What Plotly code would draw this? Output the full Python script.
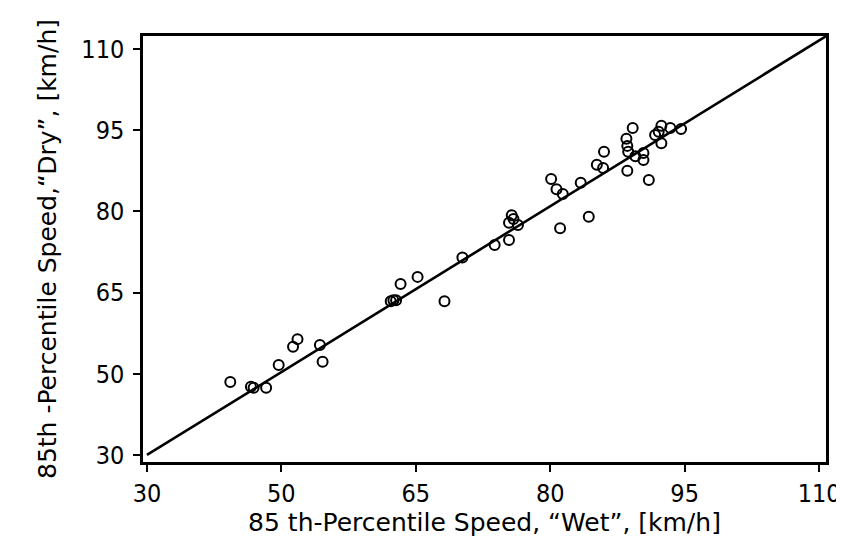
import plotly.graph_objects as go

# Tick labels (axis drawn with equal spacing between labels)
tick_vals = [35, 50, 65, 80, 95, 110]
tick_text = ["30", "50", "65", "80", "95", "110"]

wet = [44.3, 46.6, 46.9, 48.3, 49.7, 51.3, 51.8, 54.3, 54.6, 62.2, 62.5, 62.8,
       63.3, 65.2, 68.2, 70.2, 73.8, 75.4, 75.7, 75.4, 76.4, 75.9, 81.1, 84.3,
       80.1, 80.7, 81.4, 83.4, 85.2, 85.9, 86.0, 88.6, 91.0, 89.2, 88.5, 88.6,
       88.7, 89.5, 90.4, 90.4, 91.7, 92.4, 93.4, 92.4, 94.6, 92.1]
dry = [48.5, 47.6, 47.4, 47.4, 51.6, 55.0, 56.4, 55.3, 52.2, 63.4, 63.6, 63.6,
       66.6, 67.9, 63.4, 71.5, 73.8, 74.7, 79.3, 77.9, 77.5, 78.6, 76.9, 79.0,
       86.0, 84.1, 83.2, 85.3, 88.6, 88.0, 91.0, 87.5, 85.8, 95.4, 93.4, 92.1,
       91.0, 90.2, 90.8, 89.5, 94.1, 95.8, 95.4, 92.6, 95.2, 94.7]

# Reference line (equality line, wet = dry)
line_x = [35, 110.8]
line_y = [35, 112.4]

fig = go.Figure()
fig.add_trace(go.Scatter(x=line_x, y=line_y, mode="lines",
                         line=dict(color="black", width=2.6), showlegend=False))
fig.add_trace(go.Scatter(x=wet, y=dry, mode="markers",
                         marker=dict(symbol="circle-open", size=10, color="black",
                                     line=dict(width=2, color="black")),
                         showlegend=False))

axis_common = dict(
    tickmode="array", tickvals=tick_vals, ticktext=tick_text,
    showgrid=False, zeroline=False, showline=True, linecolor="black",
    linewidth=2.5, mirror=True, ticks="outside", ticklen=7, tickwidth=2,
    tickcolor="black",
    tickfont=dict(family="DejaVu Sans Condensed", size=25, color="black"),
)

fig.update_layout(
    width=844, height=536,
    margin=dict(l=135, r=15, t=28, b=82),
    plot_bgcolor="white", paper_bgcolor="white",
    xaxis=dict(range=[34.56, 110.77],
               title=dict(text="85 th-Percentile Speed, \u201cWet\u201d, [km/h]",
                          font=dict(family="DejaVu Sans", size=25, color="black"),
                          standoff=2),
               **axis_common),
    yaxis=dict(range=[33.7, 112.4],
               title=dict(text="85th -Percentile Speed,\u201cDry\u201d, [km/h]",
                          font=dict(family="DejaVu Sans", size=25, color="black"),
                          standoff=18),
               ticklabelstandoff=4,
               **axis_common),
)

fig.write_html("out.html")
